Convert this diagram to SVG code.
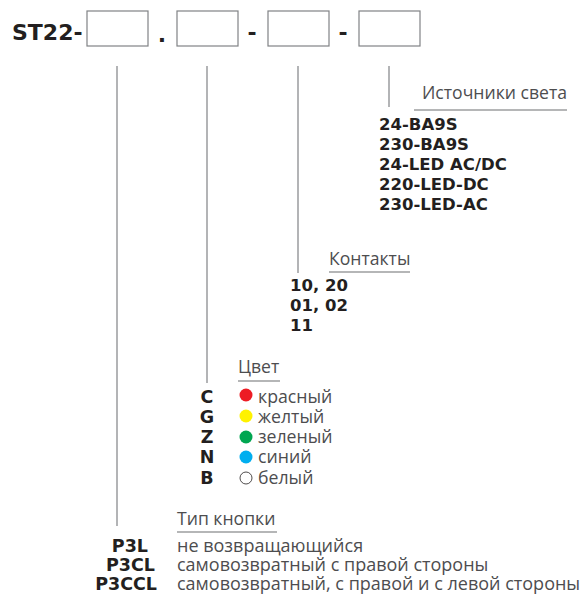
<svg xmlns="http://www.w3.org/2000/svg" width="583" height="596" viewBox="0 0 583 596">
<style>
text{font-family:"Open Sans","Noto Sans","Liberation Sans",sans-serif;fill:#231f20}
.t{font-family:"DejaVu Sans","Liberation Sans",sans-serif;font-size:22px;font-weight:bold}
.h{font-size:17.6px;fill:#4d4d4f}
.b{font-family:"DejaVu Sans","Liberation Sans",sans-serif;font-size:16.5px;font-weight:bold}
.k{font-family:"DejaVu Sans","Liberation Sans",sans-serif;font-size:17.5px;font-weight:bold}
.r{font-size:17.7px;fill:#4d4d4f}
.d{font-size:18px;fill:#4d4d4f}
.box{fill:#fff;stroke:#808285;stroke-width:1.2}
.ln{stroke:#808285;stroke-width:1.2;fill:none}
.ul{stroke:#6d6e71;stroke-width:1.2}
</style>
<rect width="583" height="596" fill="#fff"/>
<g id="code">
<text class="t" x="12" y="40">ST22-</text>
<rect class="box" x="87" y="11" width="61" height="35"/>
<text class="t" x="162" y="42" text-anchor="middle">.</text>
<rect class="box" x="177" y="11" width="61" height="35"/>
<text class="t" x="252" y="40" text-anchor="middle">-</text>
<rect class="box" x="268" y="11" width="61" height="35"/>
<text class="t" x="343" y="40" text-anchor="middle">-</text>
<rect class="box" x="359" y="11" width="61" height="35"/>
</g>
<g id="connectors">
<line class="ln" x1="117" y1="66" x2="117" y2="526"/>
<line class="ln" x1="207" y1="66" x2="207" y2="383"/>
<line class="ln" x1="298" y1="66" x2="298" y2="273"/>
<line class="ln" x1="389" y1="66" x2="389" y2="107"/>
</g>
<g id="light">
<text class="h" x="422" y="99">Источники света</text>
<line class="ul" x1="414" y1="110" x2="567" y2="110"/>
<text class="b" x="379" y="130">24-BA9S</text>
<text class="b" x="379" y="150">230-BA9S</text>
<text class="b" x="379" y="170">24-LED AC/DC</text>
<text class="b" x="379" y="190">220-LED-DC</text>
<text class="b" x="379" y="210">230-LED-AC</text>
</g>
<g id="contacts">
<text class="h" x="329" y="265">Контакты</text>
<line class="ul" x1="329" y1="272" x2="410" y2="272"/>
<text class="b" x="290" y="291">10, 20</text>
<text class="b" x="290" y="311">01, 02</text>
<text class="b" x="290" y="331">11</text>
</g>
<g id="color">
<text class="h" x="238" y="373">Цвет</text>
<line class="ul" x1="238" y1="381" x2="280" y2="381"/>
<text class="k" x="207" y="403" text-anchor="middle">C</text>
<text class="k" x="207" y="423" text-anchor="middle">G</text>
<text class="k" x="207" y="443" text-anchor="middle">Z</text>
<text class="k" x="207" y="463" text-anchor="middle">N</text>
<text class="k" x="207" y="484" text-anchor="middle">B</text>
<circle cx="246" cy="395" r="6.5" fill="#ed1c24"/>
<circle cx="246" cy="416" r="6.5" fill="#fff200"/>
<circle cx="246" cy="437" r="6.5" fill="#00a651"/>
<circle cx="246" cy="457" r="6.5" fill="#00aeef"/>
<circle cx="246" cy="478" r="6" fill="#fff" stroke="#231f20" stroke-width="0.8"/>
<text class="r" x="258" y="403">красный</text>
<text class="r" x="258" y="423">желтый</text>
<text class="r" x="258" y="443">зеленый</text>
<text class="r" x="258" y="463">синий</text>
<text class="r" x="258" y="484">белый</text>
</g>
<g id="type">
<text class="h" x="177" y="525">Тип кнопки</text>
<line class="ul" x1="177" y1="532" x2="277" y2="532"/>
<text class="k" x="148" y="552" text-anchor="end">P3L</text>
<text class="k" x="155" y="571" text-anchor="end">P3CL</text>
<text class="k" x="157" y="590" text-anchor="end">P3CCL</text>
<text class="d" x="177" y="552">не возвращающийся</text>
<text class="d" x="177" y="571">самовозвратный с правой стороны</text>
<text class="d" x="177" y="590">самовозвратный, с правой и с левой стороны</text>
</g>
</svg>
